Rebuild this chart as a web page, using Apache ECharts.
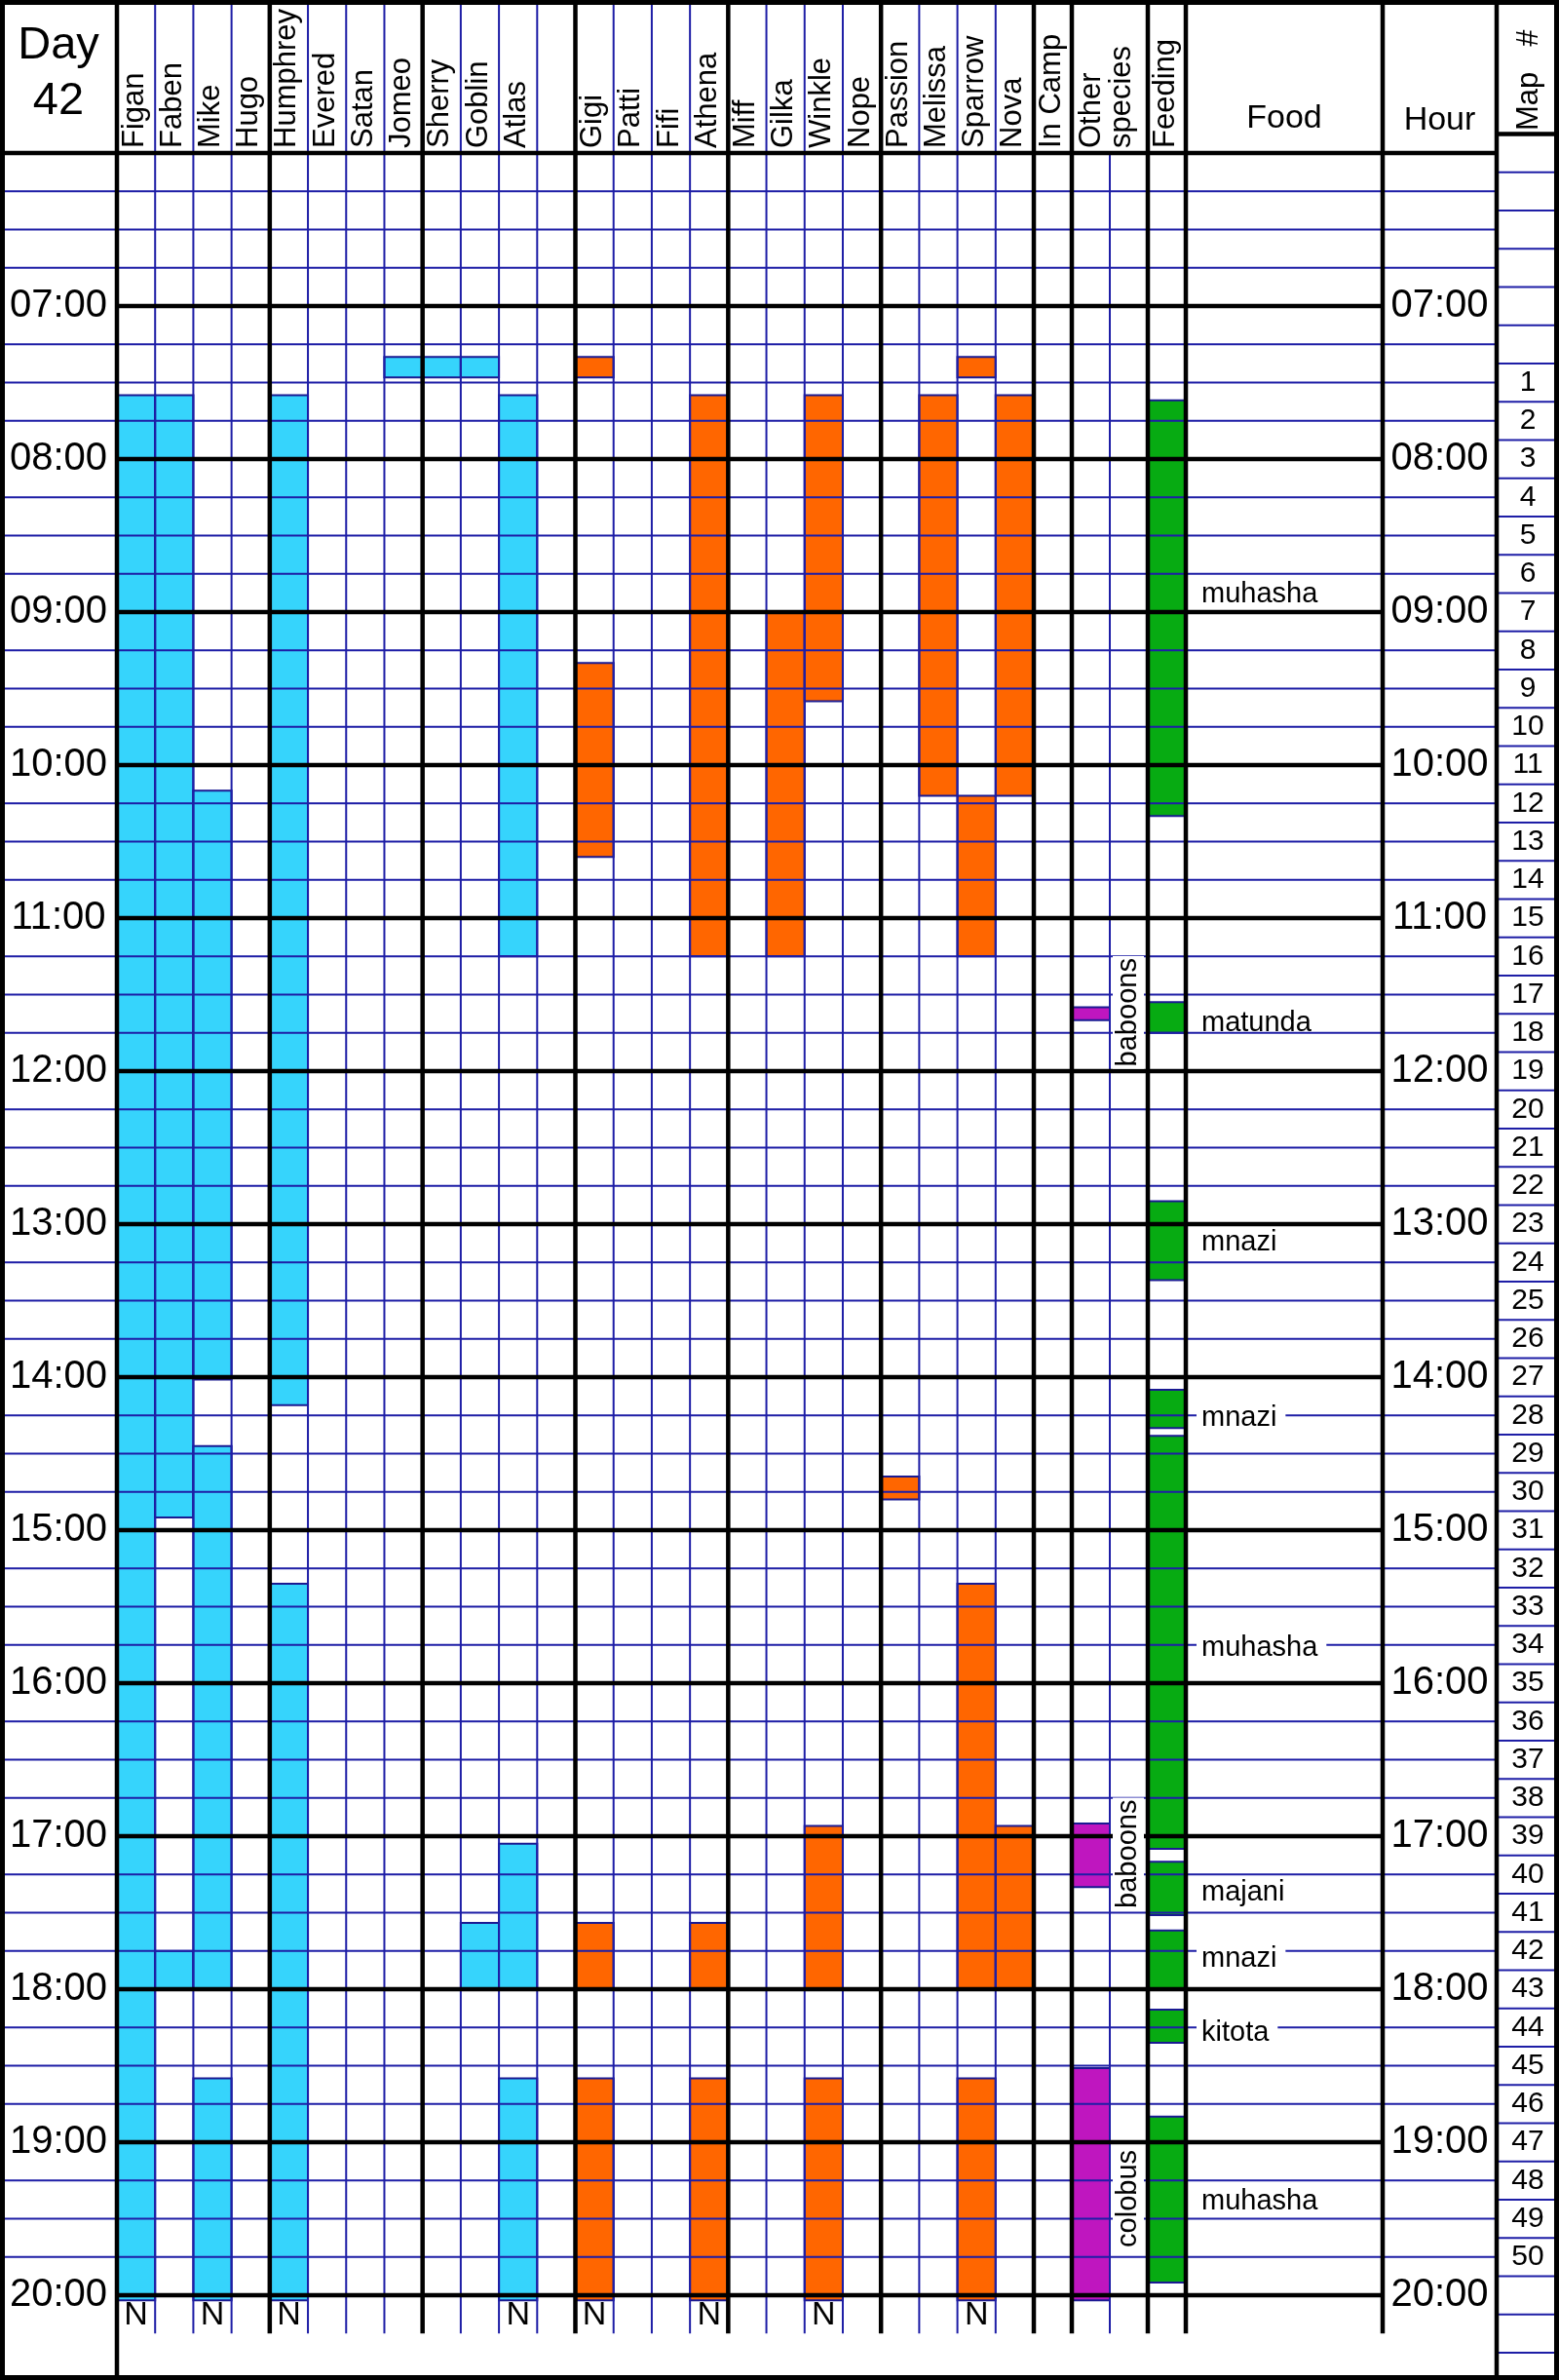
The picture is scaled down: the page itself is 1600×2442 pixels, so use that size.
<!DOCTYPE html>
<html>
<head>
<meta charset="utf-8">
<script src="https://cdn.jsdelivr.net/npm/echarts@6/dist/echarts.min.js"></script>
<style>
html,body{margin:0;padding:0;background:#ffffff;}
#chart{width:1600px;height:2442px;}
</style>
</head>
<body>
<div id="chart"></div>
<script>
// ---------------- DATA ----------------
const dayNumber = '42';
const chimpNames = ['Figan','Faben','Mike','Hugo','Humphrey','Evered','Satan','Jomeo',
  'Sherry','Goblin','Atlas','','Gigi','Patti','Fifi','Athena',
  'Miff','Gilka','Winkle','Nope','Passion','Melissa','Sparrow','Nova'];

// [chimp, start, end]
const maleVisits = [
  ['Figan','07:35','20:02'],
  ['Faben','07:35','14:55'], ['Faben','17:45','18:00'],
  ['Mike','10:10','14:01'], ['Mike','14:27','18:00'], ['Mike','18:35','20:02'],
  ['Humphrey','07:35','14:11'], ['Humphrey','15:21','20:02'],
  ['Jomeo','07:20','07:28'],
  ['Sherry','07:20','07:28'],
  ['Goblin','07:20','07:28'], ['Goblin','17:34','18:00'],
  ['Atlas','07:35','11:15'], ['Atlas','17:03','18:00'], ['Atlas','18:35','20:02']
];
const femaleVisits = [
  ['Gigi','07:20','07:28'], ['Gigi','09:20','10:36'], ['Gigi','17:34','18:00'], ['Gigi','18:35','20:02'],
  ['Athena','07:35','11:15'], ['Athena','17:34','18:00'], ['Athena','18:35','20:02'],
  ['Gilka','09:00','11:15'],
  ['Winkle','07:35','09:35'], ['Winkle','16:56','18:00'], ['Winkle','18:35','20:02'],
  ['Passion','14:39','14:48'],
  ['Melissa','07:35','10:12'],
  ['Sparrow','07:20','07:28'], ['Sparrow','10:12','11:15'], ['Sparrow','15:21','18:00'], ['Sparrow','18:35','20:02'],
  ['Nova','07:35','10:12'], ['Nova','16:56','18:00']
];
const nestedAt2000 = ['Figan','Mike','Humphrey','Atlas','Gigi','Athena','Winkle','Sparrow'];

const otherSpeciesBouts = [['11:35','11:40'], ['16:55','17:20'], ['18:31','20:02']];
const otherSpeciesLabels = [['baboons','11:59'], ['baboons','17:29'], ['colobus','19:42']];

const feedingBouts = [['07:37','10:20'], ['11:33','11:45'], ['12:51','13:22'], ['14:05','14:20'],
  ['14:23','17:05'], ['17:10','17:31'], ['17:37','18:00'], ['18:08','18:21'], ['18:50','19:55']];
const foodLabels = [['muhasha','08:52'], ['matunda','11:40'], ['mnazi','13:06'], ['mnazi','14:15'],
  ['muhasha','15:45'], ['majani','17:21'], ['mnazi','17:47'], ['kitota','18:16'], ['muhasha','19:22']];

const hourLabels = ['07:00','08:00','09:00','10:00','11:00','12:00','13:00','14:00',
  '15:00','16:00','17:00','18:00','19:00','20:00'];
const mapNumbers = [1,2,3,4,5,6,7,8,9,10,11,12,13,14,15,16,17,18,19,20,21,22,23,24,25,
  26,27,28,29,30,31,32,33,34,35,36,37,38,39,40,41,42,43,44,45,46,47,48,49,50];
const mapFirstRow = '07:30';

// ---------------- LAYOUT ----------------
const FONT = "'Liberation Sans', Arial, Helvetica, sans-serif";
const BLUE = '#1e1ea6';
const NAVY = '#1a1a92';
const BLACK = '#000000';
const FILLS = ['#36d4fc', '#ff6600', '#bf16bf', '#07ab12'];
const Y_MIN = 5, Y_MAX = 5 + 2442 / 157;
const X_DAY = 120, X_CAMP = 1061, X_OTHER = 1100, X_OTHER_MID = 1139, X_FEED = 1178,
      X_FOOD = 1217, X_HOUR = 1419, X_MAP = 1536, X_END = 1600;
const COLW = (X_CAMP - X_DAY) / 24;

function toH(s) { const p = s.split(':').map(Number); return p[0] + p[1] / 60; }
const colX0 = i => X_DAY + i * COLW;
const colIdx = n => chimpNames.indexOf(n);

const barData = [];
maleVisits.forEach(v => { const i = colIdx(v[0]); barData.push([colX0(i), colX0(i + 1), toH(v[1]), toH(v[2]), 0]); });
femaleVisits.forEach(v => { const i = colIdx(v[0]); barData.push([colX0(i), colX0(i + 1), toH(v[1]), toH(v[2]), 1]); });
otherSpeciesBouts.forEach(v => barData.push([X_OTHER, X_OTHER_MID, toH(v[0]), toH(v[1]), 2]));
feedingBouts.forEach(v => barData.push([X_FEED, X_FOOD, toH(v[0]), toH(v[1]), 3]));

function renderBar(params, api) {
  const a = api.coord([api.value(0), api.value(2)]);
  const b = api.coord([api.value(1), api.value(3)]);
  return {
    type: 'rect',
    shape: { x: a[0], y: a[1], width: b[0] - a[0], height: b[1] - a[1] },
    style: { fill: FILLS[api.value(4)], stroke: NAVY, lineWidth: 2 }
  };
}

function renderFrame(params, api) {
  const kids = [];
  const P = (x, t) => api.coord([x, t]);
  function line(x0, t0, x1, t1, stroke, w) {
    const a = P(x0, t0), b = P(x1, t1);
    kids.push({ type: 'line', shape: { x1: a[0], y1: a[1], x2: b[0], y2: b[1] },
      style: { stroke: stroke, lineWidth: w } });
  }
  const endT = toH('20:15');
  // blue quarter-hour lines
  for (let k = 1; k <= 56; k++) {
    const t = 6 + k * 0.25;
    if (Math.abs(t - Math.round(t)) < 1e-6) continue;
    if (t < 20) line(0, t, X_MAP, t, BLUE, 2);
    else line(X_DAY, t, X_MAP, t, BLUE, 2);
  }
  // blue vertical lines between chimp columns
  for (let i = 1; i < 24; i++) {
    if (i % 4 === 0) continue;
    line(colX0(i), Y_MIN, colX0(i), endT, BLUE, 2);
  }
  line(X_OTHER_MID, 6, X_OTHER_MID, endT, BLUE, 2);
  // map column rows
  for (let t = 6 + 0.125; t <= 20.4; t += 0.25) line(X_MAP, t, X_END, t, BLUE, 2);

  // black lines
  for (let h = 7; h <= 20; h++) line(X_DAY, h, X_HOUR, h, BLACK, 4.5);
  line(0, 6, X_MAP, 6, BLACK, 4.5);
  line(X_MAP, 5.875, X_END, 5.875, BLACK, 4.5);
  for (let i = 4; i <= 24; i += 4) line(colX0(i), Y_MIN, colX0(i), endT, BLACK, 4.5);
  [X_OTHER, X_FEED, X_FOOD, X_HOUR].forEach(x => line(x, Y_MIN, x, endT, BLACK, 4.5));
  line(X_DAY, Y_MIN, X_DAY, Y_MAX, BLACK, 4.5);
  line(X_MAP, Y_MIN, X_MAP, Y_MAX, BLACK, 4.5);
  // outer border
  const a = P(0, Y_MIN), b = P(X_END, Y_MAX);
  kids.push({ type: 'rect', shape: { x: a[0] + 2.5, y: a[1] + 2.5, width: b[0] - a[0] - 5, height: b[1] - a[1] - 5 },
    style: { fill: null, stroke: BLACK, lineWidth: 5 } });
  return { type: 'group', children: kids };
}

function txt(x, y, text, size, opts) {
  const o = opts || {};
  return {
    type: 'text', x: x, y: y, rotation: o.rot || 0,
    style: Object.assign({ text: text, fontSize: size, fontFamily: FONT, fill: '#000',
      align: o.align || 'center', verticalAlign: 'middle' }, o.style || {})
  };
}

function renderText(params, api) {
  const kids = [];
  const P = (x, t) => api.coord([x, t]);
  const top = P(0, Y_MIN)[1];
  const R = Math.PI / 2;
  // header
  kids.push(txt(60, top + 47, 'Day', 47));
  kids.push(txt(60, top + 104, dayNumber, 47));
  chimpNames.forEach((n, i) => {
    if (!n) return;
    kids.push(txt(colX0(i) + COLW / 2 - 1.5, top + 152, n, 31, { rot: R, align: 'left' }));
  });
  kids.push(txt((X_CAMP + X_OTHER) / 2 - 1.5, top + 152, 'In Camp', 31, { rot: R, align: 'left' }));
  kids.push(txt(X_OTHER + 20, top + 152, 'Other', 31, { rot: R, align: 'left' }));
  kids.push(txt(X_OTHER + 51, top + 152, 'species', 31, { rot: R, align: 'left' }));
  kids.push(txt((X_FEED + X_FOOD) / 2 - 1.5, top + 152, 'Feeding', 31, { rot: R, align: 'left' }));
  kids.push(txt((X_FOOD + X_HOUR) / 2, top + 122, 'Food', 34));
  kids.push(txt((X_HOUR + X_MAP) / 2, top + 124, 'Hour', 34));
  kids.push(txt((X_MAP + X_END) / 2 + 1, top + 134, 'Map   #', 31, { rot: R, align: 'left' }));
  // hour labels
  hourLabels.forEach(h => {
    const y = P(0, toH(h))[1];
    kids.push(txt(60, y, h, 40));
    kids.push(txt((X_HOUR + X_MAP) / 2, y, h, 40));
  });
  // map numbers
  const m0 = toH(mapFirstRow);
  mapNumbers.forEach((n, k) => {
    const y = P(0, m0 + k * 0.25)[1];
    kids.push(txt((X_MAP + X_END) / 2, y, String(n), 30));
  });
  // nest markers
  nestedAt2000.forEach(n => {
    const i = colIdx(n);
    const c = P(colX0(i) + COLW / 2, toH('20:07'));
    kids.push(txt(c[0], c[1] + 2, 'N', 34));
  });
  // food labels (white backing only where the label sits on a quarter-hour line)
  foodLabels.forEach(f => {
    const t = toH(f[1]);
    const y = P(0, t)[1];
    const q = t * 4;
    const onLine = Math.abs(q - Math.round(q)) * 15 <= 3;
    const st = onLine ? { backgroundColor: '#ffffff', padding: [0, 9, 0, 5], lineHeight: 24 }
                      : { padding: [0, 9, 0, 5], lineHeight: 24 };
    kids.push(txt(X_FOOD + 11, y + 3, f[0], 29, { align: 'left', style: st }));
  });
  // other species labels
  otherSpeciesLabels.forEach(f => {
    const y = P(0, toH(f[1]))[1];
    kids.push(txt((X_OTHER_MID + X_FEED) / 2 - 0.5, y, f[0], 29, { rot: R, align: 'left',
      style: { backgroundColor: '#ffffff', padding: [1, 2, 1, 2], lineHeight: 30 } }));
  });
  return { type: 'group', children: kids };
}

const chart = echarts.init(document.getElementById('chart'), null, { renderer: 'canvas', width: 1600, height: 2442 });
chart.setOption({
  animation: false,
  backgroundColor: '#ffffff',
  grid: { left: 0, right: 0, top: 0, bottom: 0 },
  xAxis: { type: 'value', min: 0, max: X_END, show: false },
  yAxis: { type: 'value', min: Y_MIN, max: Y_MAX, inverse: true, show: false },
  series: [
    { type: 'custom', name: 'presence', z: 1, clip: false, renderItem: renderBar,
      encode: { x: [0, 1], y: [2, 3] }, data: barData },
    { type: 'custom', name: 'frame', z: 2, clip: false, renderItem: renderFrame, silent: true,
      data: [[0, Y_MIN]] },
    { type: 'custom', name: 'text', z: 3, clip: false, renderItem: renderText, silent: true,
      data: [[0, Y_MIN]] }
  ]
});
</script>
</body>
</html>
